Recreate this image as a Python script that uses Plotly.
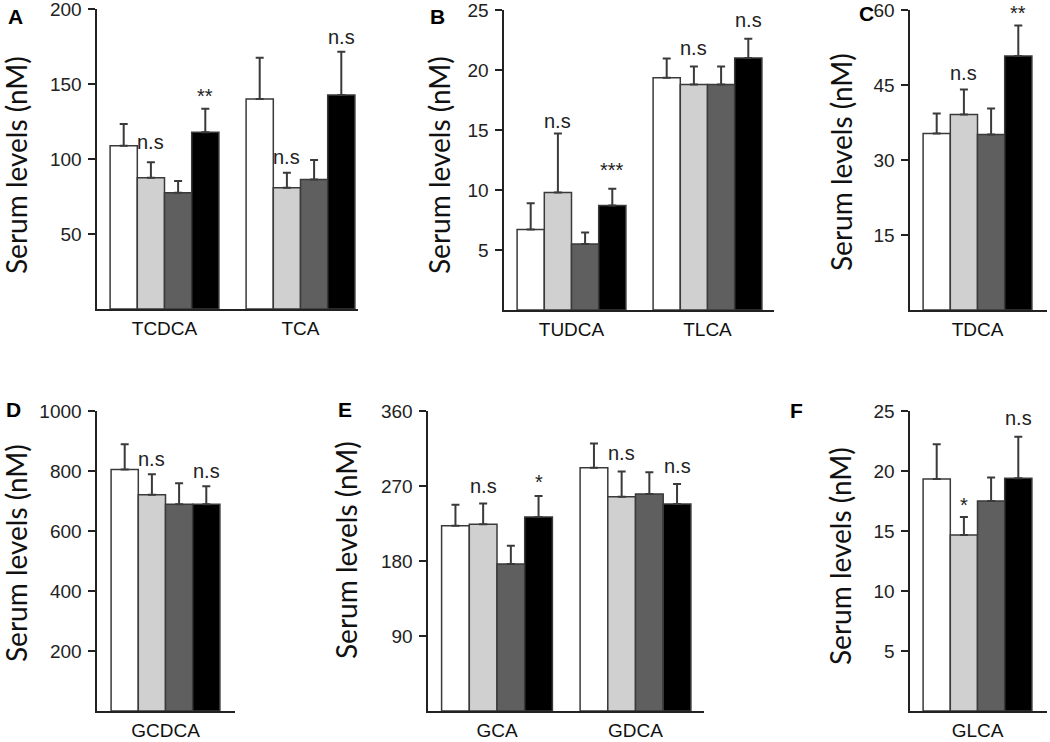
import plotly.graph_objects as go

W, H = 1050, 742

# ---------------- data ----------------
group_names = ["Group 1", "Group 2", "Group 3", "Group 4"]

A_cats = ["TCDCA", "TCA"]
A_white = [108.9, 140.0]
A_white_err = [14.5, 27.5]
A_light = [87.5, 80.9]
A_light_err = [10.3, 10.0]
A_dark = [77.5, 86.4]
A_dark_err = [7.8, 13.0]
A_black = [117.8, 142.7]
A_black_err = [15.7, 28.8]
A_ticks = [50, 100, 150, 200]
A_sig = [(0, 1, "n.s", 110.7), (0, 3, "**", 145), (1, 1, "n.s", 101), (1, 3, "n.s", 181)]

B_cats = ["TUDCA", "TLCA"]
B_white = [6.7, 19.35]
B_white_err = [2.2, 1.6]
B_light = [9.8, 18.8]
B_light_err = [4.9, 1.5]
B_dark = [5.5, 18.8]
B_dark_err = [0.95, 1.5]
B_black = [8.7, 21.0]
B_black_err = [1.4, 1.6]
B_ticks = [5, 10, 15, 20, 25]
B_sig = [(0, 1, "n.s", 15.7), (0, 3, "***", 12.0), (1, 1, "n.s", 21.75), (1, 3, "n.s", 24.1)]

C_cats = ["TDCA"]
C_white = [35.3]
C_white_err = [4.0]
C_light = [39.1]
C_light_err = [5.0]
C_dark = [35.1]
C_dark_err = [5.2]
C_black = [50.8]
C_black_err = [6.1]
C_ticks = [15, 30, 45, 60]
C_sig = [(0, 1, "n.s", 47.2), (0, 3, "**", 60.3)]

D_cats = ["GCDCA"]
D_white = [805]
D_white_err = [84]
D_light = [721]
D_light_err = [68]
D_dark = [689]
D_dark_err = [70]
D_black = [689]
D_black_err = [60]
D_ticks = [200, 400, 600, 800, 1000]
D_sig = [(0, 1, "n.s", 838), (0, 3, "n.s", 798)]

E_cats = ["GCA", "GDCA"]
E_white = [222.4, 292.0]
E_white_err = [25.2, 29.0]
E_light = [224.0, 257.0]
E_light_err = [25.0, 30.5]
E_dark = [176.4, 260.4]
E_dark_err = [22.0, 26.0]
E_black = [232.8, 248.4]
E_black_err = [25.2, 24.0]
E_ticks = [90, 180, 270, 360]
E_sig = [(0, 1, "n.s", 269), (0, 3, "*", 280), (1, 1, "n.s", 308), (1, 3, "n.s", 293)]

F_cats = ["GLCA"]
F_white = [19.33]
F_white_err = [2.9]
F_light = [14.67]
F_light_err = [1.5]
F_dark = [17.5]
F_dark_err = [1.95]
F_black = [19.4]
F_black_err = [3.45]
F_ticks = [5, 10, 15, 20, 25]
F_sig = [(0, 1, "*", 17.5), (0, 3, "n.s", 24.3)]

y_title = "Serum levels (nM)"

# ---------------- styling / layout geometry (pixels) ----------------
bar_colors = ["#ffffff", "#d0d0d0", "#5f5f5f", "#000000"]
outline = "#3a3a3a"
TICK_FONT = dict(family="Liberation Sans, Arial, sans-serif", size=19, color="#222")
CAT_FONT = dict(family="Liberation Sans, Arial, sans-serif", size=19, color="#111")
SIG_FONT = dict(family="Liberation Sans, Arial, sans-serif", size=20, color="#222")
LBL_FONT = dict(family="Liberation Sans, Arial, sans-serif", size=21, color="#000")
TITLE_FONT = dict(family="Lato, Open Sans, sans-serif", size=28, color="#111")

panels = [
    dict(cats=A_cats, vals=[A_white, A_light, A_dark, A_black],
         errs=[A_white_err, A_light_err, A_dark_err, A_black_err],
         ticks=A_ticks, ymax=200, sig=A_sig, x0=97, x1=358, yb=309, yt=9, c0=164.5, unit=136,
         label="A", lx=15, ly=16, tx=16, ty=165),
    dict(cats=B_cats, vals=[B_white, B_light, B_dark, B_black],
         errs=[B_white_err, B_light_err, B_dark_err, B_black_err],
         ticks=B_ticks, ymax=25, sig=B_sig, x0=504, x1=774, yb=310, yt=10, c0=571.5, unit=136,
         label="B", lx=437, ly=16, tx=439, ty=165),
    dict(cats=C_cats, vals=[C_white, C_light, C_dark, C_black],
         errs=[C_white_err, C_light_err, C_dark_err, C_black_err],
         ticks=C_ticks, ymax=60, sig=C_sig, x0=910, x1=1047, yb=310, yt=10, c0=977.5, unit=136,
         label="C", lx=866, ly=13, tx=841, ty=162),
    dict(cats=D_cats, vals=[D_white, D_light, D_dark, D_black],
         errs=[D_white_err, D_light_err, D_dark_err, D_black_err],
         ticks=D_ticks, ymax=1000, sig=D_sig, x0=97, x1=235, yb=711, yt=411, c0=165.5, unit=136,
         label="D", lx=13, ly=409, tx=16, ty=553),
    dict(cats=E_cats, vals=[E_white, E_light, E_dark, E_black],
         errs=[E_white_err, E_light_err, E_dark_err, E_black_err],
         ticks=E_ticks, ymax=360, sig=E_sig, x0=428, x1=704, yb=711, yt=411, c0=497, unit=138.5,
         label="E", lx=345, ly=409, tx=346, ty=550),
    dict(cats=F_cats, vals=[F_white, F_light, F_dark, F_black],
         errs=[F_white_err, F_light_err, F_dark_err, F_black_err],
         ticks=F_ticks, ymax=25, sig=F_sig, x0=910, x1=1047, yb=711, yt=411, c0=977.5, unit=136,
         label="F", lx=796, ly=410, tx=840, ty=556),
]

fig = go.Figure()
annotations = []
layout_axes = {}

for i, p in enumerate(panels, start=1):
    xa = "x" if i == 1 else f"x{i}"
    ya = "y" if i == 1 else f"y{i}"
    for k in range(4):
        fig.add_trace(go.Bar(
            x=p["cats"], y=p["vals"][k], name=group_names[k],
            xaxis=xa, yaxis=ya, showlegend=False,
            marker=dict(color=bar_colors[k], line=dict(color=outline, width=1.5)),
            error_y=dict(type="data", symmetric=False, array=p["errs"][k],
                         arrayminus=[0] * len(p["errs"][k]),
                         color="#3a3a3a", thickness=2, width=4),
        ))
    xr = [(p["x0"] - p["c0"]) / p["unit"], (p["x1"] - p["c0"]) / p["unit"]]
    xkey = "xaxis" if i == 1 else f"xaxis{i}"
    ykey = "yaxis" if i == 1 else f"yaxis{i}"
    layout_axes[xkey] = dict(
        domain=[p["x0"] / W, p["x1"] / W], range=xr, anchor=ya,
        type="category", showline=True, linecolor="#222", linewidth=1.6,
        ticks="", showgrid=False, zeroline=False, tickfont=CAT_FONT,
        ticklabelstandoff=2, fixedrange=True,
    )
    layout_axes[ykey] = dict(
        domain=[1 - p["yb"] / H, 1 - p["yt"] / H], range=[0, p["ymax"]], anchor=xa,
        showline=True, linecolor="#222", linewidth=1.6, ticks="outside",
        ticklen=7, tickwidth=1.4, tickcolor="#222", tickvals=p["ticks"],
        showgrid=False, zeroline=False, tickfont=TICK_FONT, ticklabelstandoff=3,
        ticklabeloverflow="allow", fixedrange=True,
    )
    for (ci, bk, txt, yv) in p["sig"]:
        annotations.append(dict(
            x=ci - 0.3 + 0.2 * bk, y=yv / p["ymax"], xref=xa, yref=f"{ya} domain", text=txt,
            showarrow=False, font=SIG_FONT, xanchor="center", yanchor="middle",
            yshift=-4 if "*" in txt else 1,
        ))
    annotations.append(dict(
        x=p["lx"] / W, y=1 - p["ly"] / H, xref="paper", yref="paper",
        text=f"<b>{p['label']}</b>", showarrow=False, font=LBL_FONT,
        xanchor="center", yanchor="middle",
    ))
    annotations.append(dict(
        x=p["tx"] / W, y=1 - p["ty"] / H, xref="paper", yref="paper",
        text=y_title, textangle=-90, showarrow=False, font=TITLE_FONT,
        xanchor="center", yanchor="middle",
    ))

fig.update_layout(
    width=W, height=H, margin=dict(l=0, r=0, t=0, b=0, autoexpand=False),
    paper_bgcolor="white", plot_bgcolor="white",
    barmode="group", bargap=0.2, bargroupgap=0,
    annotations=annotations, showlegend=False,
    **layout_axes,
)

fig.write_html(
    "out.html",
    config={"displayModeBar": False, "staticPlot": True},
    post_script="document.body.style.margin='0';document.body.style.overflow='hidden';",
)
